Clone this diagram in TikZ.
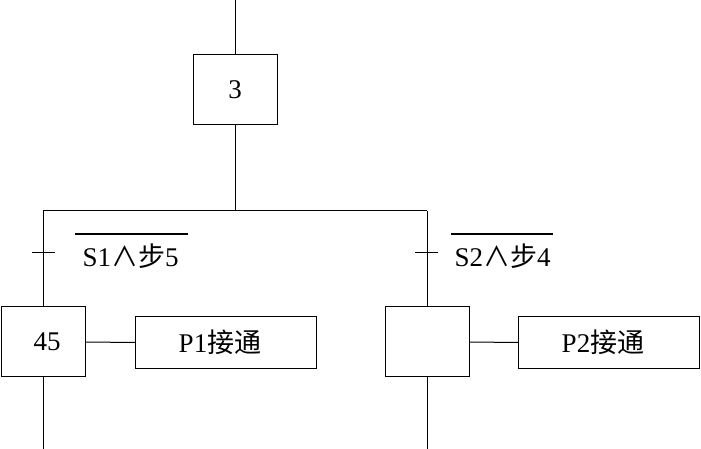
\documentclass[tikz,border=0pt]{standalone}
\usepackage{fontspec}
\setmainfont{Liberation Serif}
\newfontfamily\cjk{Noto Sans CJK SC}
\begin{document}
\begin{tikzpicture}[x=1pt,y=1pt,
  line width=1pt,
  txt/.style={font=\fontsize{27}{30}\selectfont},
  stepbox/.style={draw,line width=1pt,minimum width=84pt,minimum height=70pt,inner sep=0pt,txt},
  actbox/.style={draw,line width=1.4pt,minimum width=181pt,minimum height=52pt,inner sep=0pt,txt},
  lab/.style={anchor=base west,inner sep=0pt,txt}]
\useasboundingbox (0,0) rectangle (701,449);
\node[stepbox] (s3) at (235,359) {3};
\node[stepbox] (s45) at (43,107) {\hspace*{8pt}45};
\node[stepbox] (sr) at (427,107) {};
\node[actbox] (p1) at (226,106.5) {P1{\cjk 接通}\hspace*{12pt}};
\node[actbox] (p2) at (609,106.5) {P2{\cjk 接通}\hspace*{12pt}};
\coordinate (top) at (235,449);
\coordinate (jl) at (43,238);
\coordinate (jm) at (235,238);
\coordinate (jr) at (427,238);
\coordinate (bl) at (43,0);
\coordinate (br) at (427,0);
\draw (top) -- (s3.north);
\draw (s3.south) -- (jm);
\draw (jl) -- (jr);
\draw (jl) -- (s45.north);
\draw (jr) -- (sr.north);
\draw (s45.south) -- (bl);
\draw (sr.south) -- (br);
\draw (s45.east) -- (p1.west);
\draw (sr.east) -- (p2.west);
% transitions
\draw (32,196) -- (55,196);
\draw (415,196) -- (438,196);
\node[lab] (t1) at (82,182) {S1{\cjk ∧步}5};
\node[lab] (t2) at (454,182) {S2{\cjk ∧步}4};
\draw[line width=1.4pt] (75,215) -- (188,215);
\draw[line width=1.4pt] (451,215) -- (553,215);
\end{tikzpicture}
\end{document}
